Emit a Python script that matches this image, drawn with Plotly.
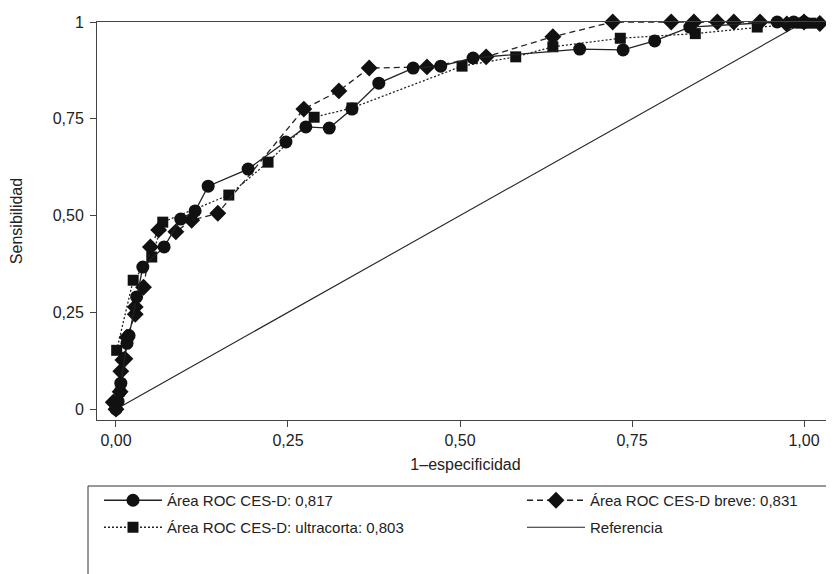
import plotly.graph_objects as go

# ---- data ----
ces_x = [0.0, 0.003, 0.006, 0.007, 0.016, 0.019, 0.030, 0.039, 0.070, 0.094, 0.115, 0.134,
         0.192, 0.247, 0.276, 0.310, 0.343, 0.382, 0.432, 0.472, 0.519, 0.674, 0.737, 0.783,
         0.834, 0.961, 0.985, 1.0]
ces_y = [0.0, 0.02, 0.045, 0.067, 0.17, 0.19, 0.29, 0.367, 0.419, 0.491, 0.512, 0.576,
         0.62, 0.69, 0.729, 0.726, 0.775, 0.842, 0.881, 0.886, 0.907, 0.930, 0.928, 0.951,
         0.987, 1.0, 1.0, 1.0]

breve_x = [0.0, -0.004, 0.006, 0.007, 0.010, 0.013, 0.016, 0.028, 0.028, 0.040, 0.050, 0.062,
           0.087, 0.110, 0.148, 0.273, 0.324, 0.368, 0.452, 0.538, 0.635, 0.722, 0.807,
           0.840, 0.874, 0.898, 0.936, 0.975, 1.0, 1.023]
breve_y = [0.0, 0.018, 0.045, 0.098, 0.127, 0.13, 0.186, 0.245, 0.264, 0.315, 0.419, 0.463,
           0.458, 0.488, 0.506, 0.775, 0.822, 0.881, 0.884, 0.910, 0.962, 1.0, 1.0,
           1.0, 1.0, 1.0, 1.0, 0.995, 1.0, 0.996]

ultra_x = [0.001, 0.025, 0.052, 0.068, 0.164, 0.221, 0.288, 0.343, 0.503, 0.581, 0.635,
           0.733, 0.842, 0.932, 0.995, 1.010, 1.040]
ultra_y = [0.152, 0.333, 0.393, 0.483, 0.553, 0.638, 0.754, 0.778, 0.886, 0.910, 0.936,
           0.958, 0.970, 0.987, 0.997, 0.997, 0.990]

ref_x = [0.0, 1.0]
ref_y = [0.0, 1.0]

names = ["Área ROC CES-D: 0,817", "Área ROC CES-D breve: 0,831",
         "Área ROC CES-D: ultracorta: 0,803", "Referencia"]

tick_vals = [0, 0.25, 0.5, 0.75, 1]
x_tick_text = ["0,00", "0,25", "0,50", "0,75", "1,00"]
y_tick_text = ["0", "0,25", "0,50", "0,75", "1"]

# ---- layout geometry (page pixels; the page body adds an 8px offset) ----
OFF = 8
PAGE_W, PAGE_H = 834, 574
PLOT_L, PLOT_R, PLOT_T, PLOT_B = 97, 834, 22, 420
W, H = PAGE_W - OFF, PAGE_H - OFF
ML, MR, MT = PLOT_L - OFF, 0, PLOT_T - OFF
MB = H - (PLOT_B - OFF)
PW, PH = PLOT_R - PLOT_L, PLOT_B - PLOT_T

def px_x(px):
    return (px - PLOT_L) / PW

def px_y(py):
    return (PLOT_B - py) / PH

FONT = "Liberation Sans, Arial, sans-serif"
INK = "#111111"
TXT = "#222222"

fig = go.Figure()

fig.add_trace(go.Scatter(
    x=ref_x, y=ref_y, mode="lines", name=names[3],
    line=dict(color="#222222", width=1.1), legend="legend4", cliponaxis=False))

fig.add_trace(go.Scatter(
    x=ultra_x, y=ultra_y, mode="lines+markers", name=names[2],
    line=dict(color="#222222", width=1.3, dash="2px,2px"),
    marker=dict(symbol="square", size=11, color=INK),
    legend="legend3", cliponaxis=False))

fig.add_trace(go.Scatter(
    x=breve_x, y=breve_y, mode="lines+markers", name=names[1],
    line=dict(color="#222222", width=1.3, dash="6px,4px"),
    marker=dict(symbol="diamond", size=13, color=INK),
    legend="legend2", cliponaxis=False))

fig.add_trace(go.Scatter(
    x=ces_x, y=ces_y, mode="lines+markers", name=names[0],
    line=dict(color="#222222", width=1.3),
    marker=dict(symbol="circle", size=13, color=INK),
    legend="legend", cliponaxis=False))

axis_common = dict(
    showgrid=False, zeroline=False, showline=True, linecolor="#444444", linewidth=1,
    ticks="outside", ticklen=6, tickcolor="#444444", tickwidth=1,
    tickfont=dict(family=FONT, size=16, color=TXT),
)

legend_common = dict(
    orientation="h", xanchor="left", yanchor="top", itemsizing="trace",
    itemwidth=58, font=dict(family=FONT, size=15, color=TXT),
    bgcolor="rgba(0,0,0,0)", borderwidth=0,
)

ROW1, ROW2 = 484, 511
COL1, COL2 = 99, 522

fig.update_layout(
    width=W, height=H,
    margin=dict(l=ML, r=MR, t=MT, b=MB, autoexpand=False),
    paper_bgcolor="white", plot_bgcolor="white",
    font=dict(family=FONT, color=TXT),
    xaxis=dict(range=[-0.0276, 1.0436], tickvals=tick_vals, ticktext=x_tick_text,
               mirror=True,
               title=dict(text="1–especificidad", font=dict(family=FONT, size=16), standoff=10),
               **axis_common),
    yaxis=dict(range=[-0.028, 1.0], tickvals=tick_vals, ticktext=y_tick_text,
               ticklabelstandoff=3,
               title=dict(text="Sensibilidad", font=dict(family=FONT, size=16), standoff=26),
               **axis_common),
    legend=dict(x=px_x(COL1), y=px_y(ROW1), **legend_common),
    legend2=dict(x=px_x(COL2), y=px_y(ROW1), **legend_common),
    legend3=dict(x=px_x(COL1), y=px_y(ROW2), **legend_common),
    legend4=dict(x=px_x(COL2), y=px_y(ROW2), **legend_common),
    shapes=[dict(type="rect", xref="paper", yref="paper",
                 x0=px_x(88), x1=px_x(831), y0=px_y(486), y1=px_y(640),
                 line=dict(color="#333333", width=1), fillcolor="rgba(0,0,0,0)",
                 layer="below")],
    showlegend=True,
)

fig.write_html("out.html")
